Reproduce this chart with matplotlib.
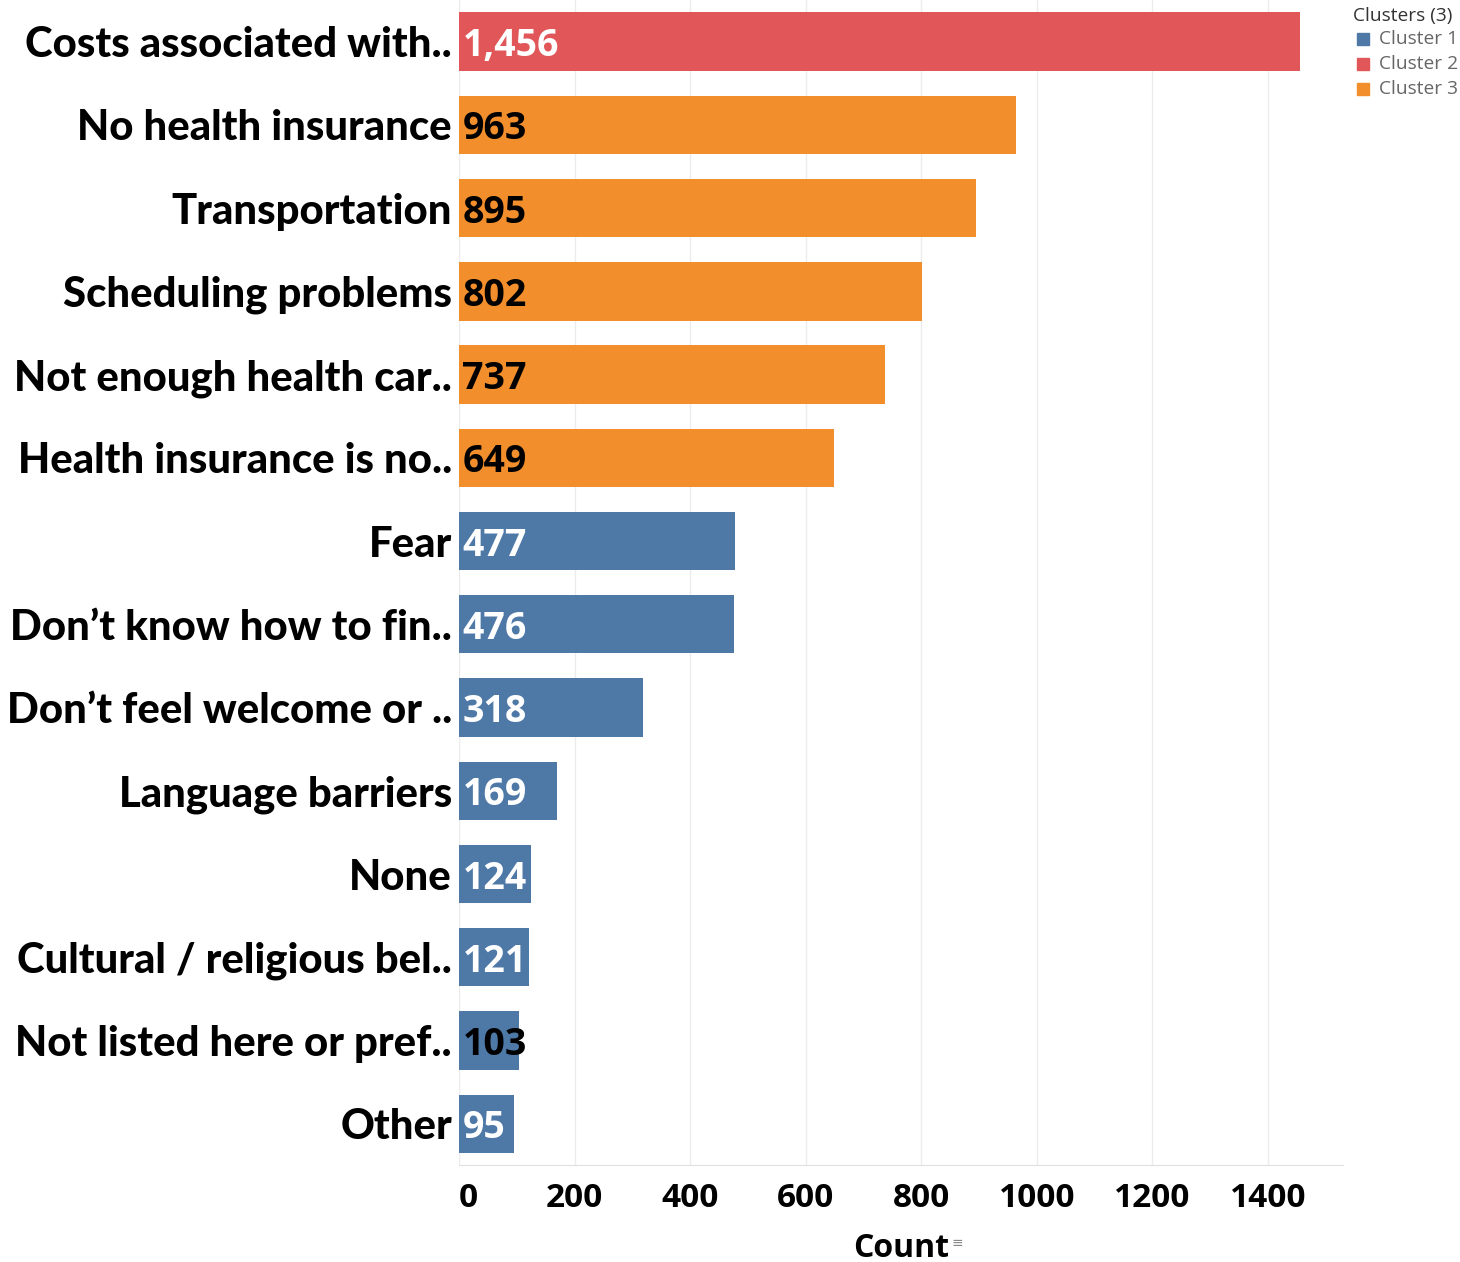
import matplotlib
matplotlib.use("Agg")
import matplotlib.pyplot as plt
from matplotlib.patches import Rectangle

plt.rcParams['font.family'] = ['Open Sans', 'DejaVu Sans']

# barriers to care, counts and cluster assignment
categories = ['Costs associated with..', 'No health insurance', 'Transportation',
              'Scheduling problems', 'Not enough health car..', 'Health insurance is no..',
              'Fear', 'Don\u2019t know how to fin..', 'Don\u2019t feel welcome or ..',
              'Language barriers', 'None', 'Cultural / religious bel..',
              'Not listed here or pref..', 'Other']
counts = [1456, 963, 895, 802, 737, 649, 477, 476, 318, 169, 124, 121, 103, 95]
clusters = [2, 3, 3, 3, 3, 3, 1, 1, 1, 1, 1, 1, 1, 1]

cluster_names = ['Cluster 1', 'Cluster 2', 'Cluster 3']
cluster_colors = {1: '#4e79a7', 2: '#e15759', 3: '#f28e2b'}
label_colors = {1: 'white', 2: 'white', 3: 'black'}
dark_labels = {'Not listed here or pref..'}
xticks = [0, 200, 400, 600, 800, 1000, 1200, 1400]

fig = plt.figure(figsize=(14.6, 12.62), dpi=100)
ax = fig.add_axes([0.3144, 0.0765, 0.6056, 0.9235])

y = list(range(len(categories)))
colors = [cluster_colors[c] for c in clusters]
ax.barh(y, counts, height=0.70, color=colors, zorder=2)

for yi, name, v, c in zip(y, categories, counts, clusters):
    col = 'black' if name in dark_labels else label_colors[c]
    ax.text(6, yi, f'{v:,}', va='center_baseline', ha='left', fontsize=27,
            fontweight='bold', color=col, zorder=3)

ax.set_ylim(len(categories) - 0.5, -0.5)
ax.set_xlim(0, 1530)
ax.set_yticks(y)
ax.set_yticklabels(categories, fontsize=30.2, fontweight='black', family=['Lato', 'DejaVu Sans'],
                   va='center_baseline')
ax.set_xticks(xticks)
ax.set_xticklabels([str(t) for t in xticks], fontsize=24, fontweight='bold')
ax.get_xticklabels()[0].set_horizontalalignment('left')
ax.tick_params(axis='both', length=0)
ax.tick_params(axis='y', pad=5)
ax.tick_params(axis='x', pad=12)

ax.grid(axis='x', color='#ececec', linewidth=1, zorder=0)
for s in ['top', 'right', 'left']:
    ax.spines[s].set_visible(False)
ax.spines['bottom'].set_color('#e0e0e0')

ax.set_xlabel('Count', fontsize=23, fontweight='bold', labelpad=12)
fig.text(0.652, 0.012, '\u2261', fontsize=10, color='#888888')

# legend in the top right corner
fig.text(0.927, 0.987, 'Clusters (3)', fontsize=13.8, color='#333333', va='center')
for i, name in enumerate(cluster_names):
    yy = 0.969 - i * 0.0198
    fig.patches.append(Rectangle((0.9295, yy - 0.0048), 0.0082, 0.0095,
                                 transform=fig.transFigure,
                                 color=cluster_colors[i + 1]))
    fig.text(0.9445, yy, name, fontsize=13.8, color='#666666', va='center')

fig.savefig('out.png', dpi=100)
